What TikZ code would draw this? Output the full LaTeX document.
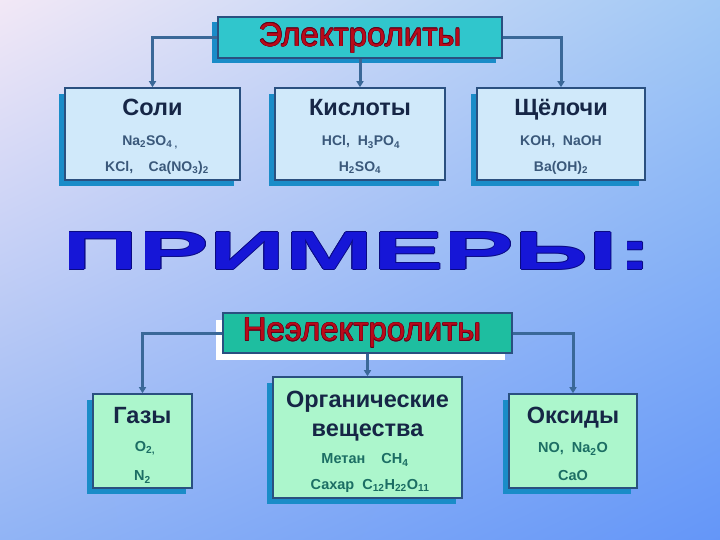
\documentclass[tikz,border=0pt]{standalone}
\usepackage{fontspec}
\setmainfont{Liberation Sans}
\usetikzlibrary{arrows.meta,shadows,shadings}
\definecolor{bgTL}{RGB}{242,232,246}
\definecolor{bgTR}{RGB}{160,200,245}
\definecolor{bgBL}{RGB}{145,180,245}
\definecolor{bgBR}{RGB}{100,150,248}
\definecolor{boxline}{RGB}{42,80,128}
\definecolor{shadowblue}{RGB}{26,140,200}
\definecolor{topfill}{RGB}{208,233,250}
\definecolor{botfill}{RGB}{172,246,204}
\definecolor{elfill}{RGB}{48,198,204}
\definecolor{nelfill}{RGB}{30,190,160}
\definecolor{conn}{RGB}{58,104,152}
\definecolor{titlered}{RGB}{185,10,25}
\definecolor{titleout}{RGB}{100,0,25}
\definecolor{headcol}{RGB}{22,38,70}
\definecolor{formtop}{RGB}{58,88,122}
\definecolor{formbot}{RGB}{28,110,100}
\definecolor{primblue}{RGB}{22,22,215}
\definecolor{primout}{RGB}{10,10,130}
\newcommand\olnode[6]{% name, position, style, outline colour, offset, text
  \foreach \dx/\dy in {-1/0,1/0,0/-1,0/1,-0.7/-0.7,0.7/0.7,-0.7/0.7,0.7/-0.7}{%
    \node[#3,text=#4,xshift=\dx*#5,yshift=\dy*#5] at #2 {#6};}
  \node[#3] (#1) at #2 {#6};}
\tikzset{
  box/.style={draw=boxline, line width=1.6pt, inner sep=0pt, general shadow={fill=shadowblue, shadow xshift=-6pt, shadow yshift=-6pt}},
  topbox/.style={box, fill=topfill},
  botbox/.style={box, fill=botfill},
  head/.style={text=headcol, font=\fontsize{23.5}{27}\selectfont\bfseries, inner sep=0pt, anchor=base},
  formt/.style={text=formtop, font=\fontsize{14}{16}\selectfont\bfseries, inner sep=0pt},
  formb/.style={text=formbot, font=\fontsize{14.5}{16}\selectfont\bfseries, inner sep=0pt},
  bigtitle/.style={text=titlered, font=\fontsize{33}{36}\selectfont, inner sep=0pt},
  link/.style={draw=conn, line width=3pt, -{Triangle[length=6pt,width=7pt]}},
}
\begin{document}
\begin{tikzpicture}[x=1pt,y=-1pt]
\useasboundingbox (0,0) rectangle (720,540);
\shade[upper left=bgTL, upper right=bgTR, lower left=bgBL, lower right=bgBR] (0,0) rectangle (720,540);

% Electrolytes
\node[draw=boxline, line width=1.6pt, fill=elfill, minimum width=284pt, minimum height=41pt, inner sep=0pt,
      general shadow={fill=shadowblue, shadow xshift=-6pt, shadow yshift=-5pt}] (el) at (360,37.5) {};
\olnode{elt}{(360,38)}{bigtitle}{titleout}{0.5pt}{Электролиты}

\node[topbox, minimum width=175pt, minimum height=92pt] (soli) at (152.5,134) {};
\node[topbox, minimum width=170pt, minimum height=92pt] (kisl) at (360,134) {};
\node[topbox, minimum width=168pt, minimum height=92pt] (shch) at (561,134) {};

\node[head] (h1) at (152.5,116) {Соли};
\node[formt] (f11) at (150,142) {Na\textsubscript{2}SO\textsubscript{4 ,}};
\node[formt] (f12) at (157,168) {KCl,\ \ \ \ Ca(NO\textsubscript{3})\textsubscript{2}};
\node[head] (h2) at (360,116) {Кислоты};
\node[formt] (f21) at (361,142) {HCl,\ \ H\textsubscript{3}PO\textsubscript{4}};
\node[formt] (f22) at (360,168) {H\textsubscript{2}SO\textsubscript{4}};
\node[head] (h3) at (561,116) {Щёлочи};
\node[formt] (f31) at (561,142) {KOH,\ \ NaOH};
\node[formt] (f32) at (561,168) {Ba(OH)\textsubscript{2}};

\draw[link] (el.west) -| (soli.north);
\draw[link] (el.south) -- (kisl.north);
\draw[link] (el.east) -| (shch.north);

% Examples
\olnode{prim}{(358,251)}{text=primblue, inner sep=0pt}{primout}{0.7pt}{\resizebox{590pt}{37pt}{\bfseries ПРИМЕРЫ:}}

% Non-electrolytes
\node[draw=boxline, line width=1.6pt, fill=nelfill, minimum width=289pt, minimum height=40pt, inner sep=0pt,
      general shadow={fill=white, shadow xshift=-7pt, shadow yshift=-7pt}] (nel) at (367.5,333) {};
\olnode{nelt}{(362,333)}{bigtitle}{titleout}{0.5pt}{Неэлектролиты}

\node[botbox, minimum width=99pt, minimum height=94pt] (gaz) at (142.5,441) {};
\node[botbox, minimum width=189pt, minimum height=121pt] (org) at (367.5,437.5) {};
\node[botbox, minimum width=128pt, minimum height=94pt] (oks) at (573,441) {};

\node[head] (g1) at (142.5,423) {Газы};
\node[formb] (g2) at (145,448) {O\textsubscript{2,}};
\node[formb] (g3) at (142.5,477) {N\textsubscript{2}};
\node[head] (o1a) at (367.5,407) {Органические};
\node[head] (o1b) at (367.5,436) {вещества};
\node[formb] (o2) at (365,460) {Метан\ \ \ \ CH\textsubscript{4}};
\node[formb] (o3) at (370,486) {Сахар\ \ C\textsubscript{12}H\textsubscript{22}O\textsubscript{11}};
\node[head] (k1) at (573,423) {Оксиды};
\node[formb] (k2) at (573,449) {NO,\ \ Na\textsubscript{2}O};
\node[formb] (k3) at (573,476) {CaO};

\draw[link] (nel.west) -| (gaz.north);
\draw[link] (nel.south) -- (org.north);
\draw[link] (nel.east) -| (oks.north);
\end{tikzpicture}
\end{document}
